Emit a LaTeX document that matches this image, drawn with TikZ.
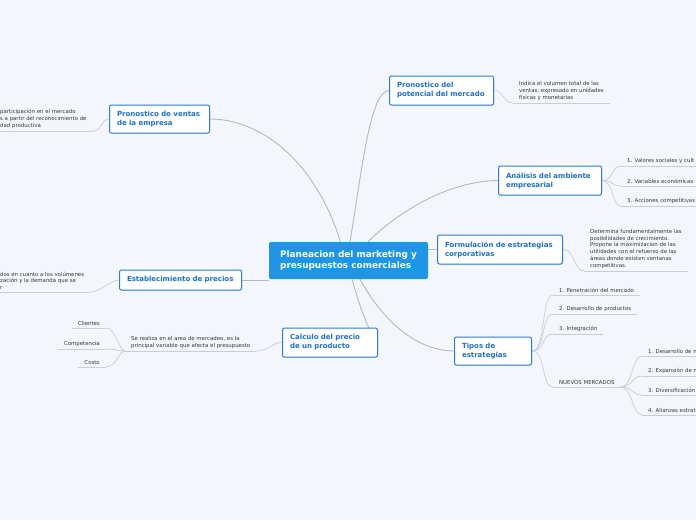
\documentclass[tikz,border=0pt]{standalone}
\usepackage{fontspec}
\setmainfont{DejaVu Sans}
\usetikzlibrary{backgrounds,shadows}
\definecolor{mmBack}{HTML}{F3F6FD}
\definecolor{mmRoot}{HTML}{1E95E6}
\definecolor{mmBlue}{HTML}{2A7BD5}
\definecolor{mmTopicInk}{HTML}{1C6FCF}
\definecolor{mmInk}{HTML}{333840}
\definecolor{mmLine}{HTML}{B4B8C0}
\definecolor{mmTwig}{HTML}{C9CDD4}
\tikzset{
  mm diagram/.style={x=1pt, y=-1pt, line cap=round, line join=round},
  mm root/.style={fill=mmRoot, text=white, rounded corners=2pt, align=left,
    font=\bfseries\fontsize{8.9}{11}\selectfont,
    minimum width=159pt, minimum height=37pt},
  mm topic/.style={draw=mmBlue, fill=white, line width=1pt, rounded corners=2pt,
    text=mmTopicInk, align=left, anchor=west, inner xsep=7.5pt, inner ysep=0pt,
    font=\bfseries\fontsize{7}{9}\selectfont,
    drop shadow={shadow xshift=0.5pt, shadow yshift=-0.8pt, opacity=0.2}},
  mm leaf/.style={text=mmInk, align=left, inner xsep=6pt, inner ysep=2pt,
    font=\fontsize{5.4}{6.9}\selectfont},
  mm link/.style={draw=mmLine, line width=0.9pt},
  mm twig/.style={draw=mmTwig, line width=0.7pt}
}

\begin{document}
\begin{tikzpicture}[mm diagram]
\useasboundingbox (0,0) rectangle (696,520);
% central topic
\node[mm root] (root) at (348.5,260.5) {Planeacion del marketing y\\presupuestos comerciales};
% main topics
\node[mm topic, text width=85pt, minimum height=28pt] (vent) at (109,119) {Pronostico de ventas\\de la empresa};
\node[mm topic, text width=107pt, minimum height=20pt] (prec) at (119,280) {Establecimiento de precios};
\node[mm topic, text width=80pt, minimum height=29pt] (calc) at (282,342.5) {Calculo del precio\\de un producto};
\node[mm topic, text width=89pt, minimum height=29pt] (pot) at (389,90.5) {Pronostico del\\potencial del mercado};
\node[mm topic, text width=88pt, minimum height=29pt] (amb) at (498,180.5) {Análisis del ambiente\\empresarial};
\node[mm topic, text width=110pt, minimum height=29pt] (form) at (437,249.5) {Formulación de estrategias\\corporativas};
\node[mm topic, text width=62pt, minimum height=28pt] (tipos) at (454,351) {Tipos de\\estrategias};
% left leaves
\node[mm leaf, anchor=south west] (ventl) at (-6,131) {participación en el mercado\\s a partir del reconocimiento de\\dad productiva};
\node[mm leaf, anchor=south west] (precl) at (-6,292) {dos en cuanto a los volúmenes\\zación y la demanda que se\\r};
\node[mm leaf, anchor=south west] (calcl) at (125,351) {Se realiza en el area de mercadeo, es la\\principal variable que afecta el presupuesto};
\node[mm leaf, anchor=south east] (cli) at (106,328) {Clientes};
\node[mm leaf, anchor=south east] (comp) at (106,349) {Competencia};
\node[mm leaf, anchor=south east] (costo) at (106,367) {Costo};
% right leaves
\node[mm leaf, anchor=south west] (potl) at (513,103) {Indica el volumen total de las\\ventas, expresado en unidades\\físicas y monetarias};
\node[mm leaf, anchor=south west] (amb1) at (621,166) {1. Valores sociales y cult};
\node[mm leaf, anchor=south west] (amb2) at (621,186) {2. Variables económicas};
\node[mm leaf, anchor=south west] (amb3) at (621,206) {3. Acciones competitivas};
\node[mm leaf, anchor=south west] (forml) at (584,271) {Determina fundamentalmente las\\posibilidades de crecimiento.\\Propone la maximizacion de las\\utilidades con el refuerzo de las\\áreas donde existen ventanas\\competitivas.};
\node[mm leaf, anchor=south west] (tip1) at (553,295) {1. Penetración del mercado};
\node[mm leaf, anchor=south west] (tip2) at (553,314) {2. Desarrollo de productos};
\node[mm leaf, anchor=south west] (tip3) at (553,334) {3. Integración};
\node[mm leaf, anchor=south west] (tip4) at (553,387) {NUEVOS MERCADOS};
\node[mm leaf, anchor=south west] (nm1) at (642,356) {1. Desarrollo de n};
\node[mm leaf, anchor=south west] (nm2) at (642,376) {2. Expansión de n};
\node[mm leaf, anchor=south west] (nm3) at (642,395) {3. Diversificación};
\node[mm leaf, anchor=south west] (nm4) at (642,415) {4. Alianzas estrat};

\begin{scope}[on background layer]
\fill[mmBack] (0,0) rectangle (696,520);
% branches from the centre
\draw[mm link] ([xshift=-8pt]root.north) .. controls (315,160) and (260,119) .. (vent.east);
\draw[mm link] ([xshift=1.5pt]root.north) .. controls (362,170) and (370,91) .. (pot.west);
\draw[mm link] ([xshift=19.5pt]root.north) .. controls (400,210) and (450,181) .. (amb.west);
\draw[mm link] (form.west) -- (form.west -| root.east);
\draw[mm link] (prec.east) -- (prec.east -| root.west);
\draw[mm link] ([xshift=3.5pt]root.south) .. controls (362,315) and (372,338) .. (calc.east);
\draw[mm link] ([xshift=11.5pt]root.south) .. controls (385,325) and (420,351) .. (tipos.west);
% underlines
\foreach \leaf in {ventl,precl,calcl,cli,comp,costo,potl,amb1,amb2,amb3,forml,tip1,tip2,tip3,tip4,nm1,nm2,nm3,nm4}
  \draw[mm twig] (\leaf.south west) -- (\leaf.south east);
% twigs
\draw[mm twig] (ventl.south east) .. controls +(10,0) and +(-8,0) .. (vent.west);
\draw[mm twig] (precl.south east) .. controls +(10,0) and +(-8,0) .. (prec.west);
\draw[mm twig] (calcl.south east) .. controls +(12,0) and +(-10,0) .. (calc.west);
\foreach \leaf in {cli,comp,costo}
  \draw[mm twig] (\leaf.south east) .. controls +(10,0) and +(-6,0) .. (calcl.south west);
\draw[mm twig] (pot.east) .. controls +(10,0) and +(-10,0) .. (potl.south west);
\foreach \leaf in {amb1,amb2,amb3}
  \draw[mm twig] (amb.east) .. controls +(12,0) and +(-10,0) .. (\leaf.south west);
\draw[mm twig] (form.east) .. controls +(12,0) and +(-10,0) .. (forml.south west);
\foreach \leaf in {tip1,tip2,tip3,tip4}
  \draw[mm twig] (tipos.east) .. controls +(14,0) and +(-12,0) .. (\leaf.south west);
\foreach \leaf in {nm1,nm2,nm3,nm4}
  \draw[mm twig] (tip4.south east) .. controls +(12,0) and +(-10,0) .. (\leaf.south west);
\end{scope}
\end{tikzpicture}
\end{document}
